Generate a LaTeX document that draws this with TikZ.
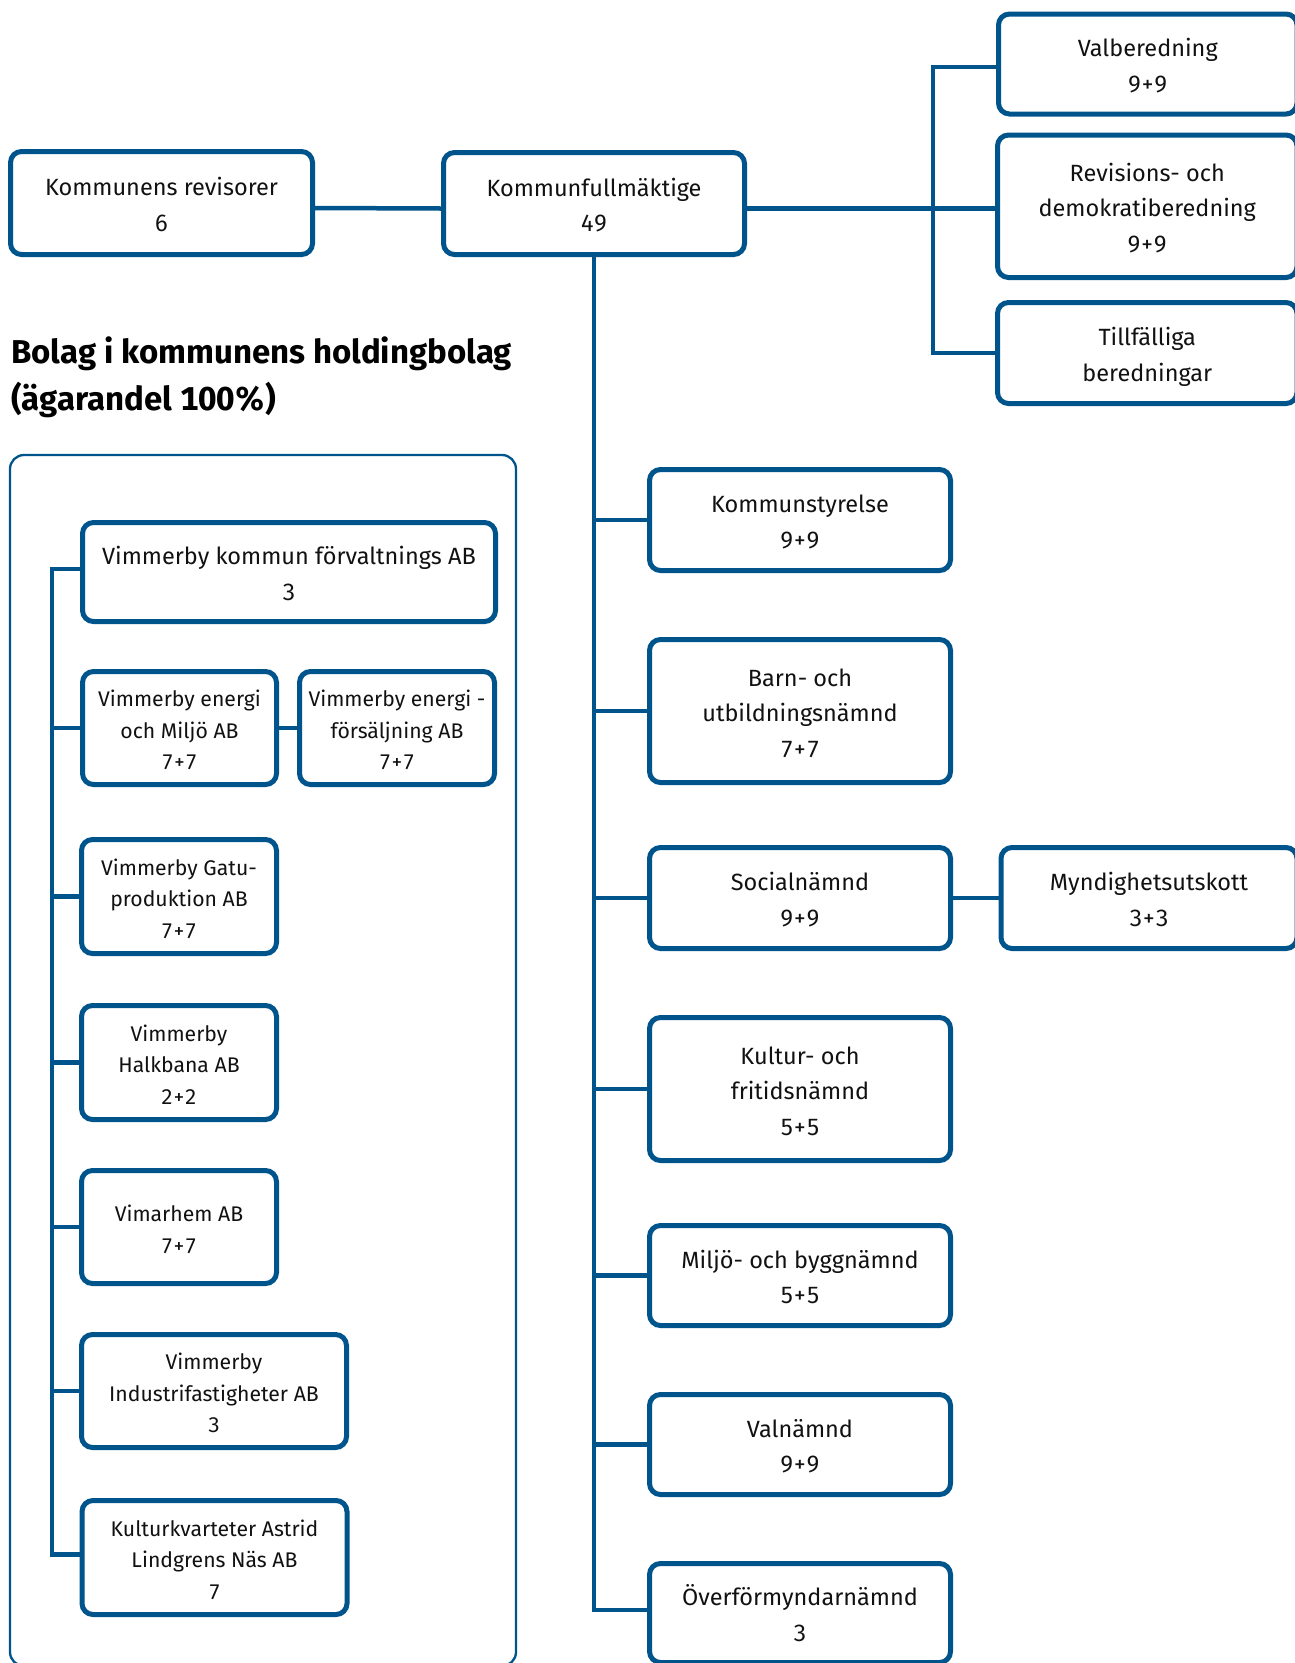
\documentclass[tikz,border=0pt]{standalone}
\usepackage{fontspec}
\setmainfont{Fira Sans}[Numbers={Lining,Monospaced}]
\definecolor{vblue}{RGB}{0,84,140}
\definecolor{ink}{RGB}{17,17,17}
\begin{document}
\begin{tikzpicture}[x=1pt,y=-1pt,
  box/.style={draw=vblue, line width=5pt, fill=white, rounded corners=11pt,
    align=center, text=ink, font=\fontsize{23.5}{35.5}\selectfont,
    text depth=0pt, inner sep=0pt},
  b2/.style={box, text height=56.5pt},
  b3/.style={box, text height=92pt},
  sbox/.style={box, font=\fontsize{21.2}{31.5}\selectfont},
  s2/.style={sbox, text height=52pt},
  s3/.style={sbox, text height=83.5pt},
  conn/.style={draw=vblue, line width=4.5pt},
  panel/.style={draw=vblue, line width=2.3pt, rounded corners=14pt, inner sep=0pt},
  headtxt/.style={anchor=base west, inner sep=0pt, text=black, font=\bfseries\fontsize{33}{47}\selectfont}
]
\useasboundingbox (0,0) rectangle (1294,1663);
\fill[white] (0,0) rectangle (1294,1663);

% left panel
\node[panel, minimum width=506pt, minimum height=1211pt] (panel) at (263,1060.5) {};
\node[headtxt] (head1) at (11,363) {Bolag i kommunens holdingbolag};
\node[headtxt] (head2) at (11,410) {(ägarandel 100\%)};

% top row
\node[b2, minimum width=302pt, minimum height=103pt] (rev) at (161.5,203) {Kommunens revisorer\\6};
\node[b2, minimum width=301pt, minimum height=102pt] (kf) at (594,203.5) {Kommunfullmäktige\\49};

% right column (beredningar)
\node[b2, minimum width=298.5pt, minimum height=100pt] (valb) at (1147.75,64) {Valberedning\\9+9};
\node[b3, minimum width=299.5pt, minimum height=142.5pt] (revd) at (1147.25,206.25) {Revisions- och\\demokratiberedning\\9+9};
\node[b2, minimum width=299.5pt, minimum height=101pt] (till) at (1147.25,353) {Tillfälliga\\beredningar};

% nämnder
\node[b2, minimum width=301pt, minimum height=101pt] (ks) at (800,520) {Kommunstyrelse\\9+9};
\node[b3, minimum width=301pt, minimum height=143pt] (barn) at (800,711) {Barn- och\\utbildningsnämnd\\7+7};
\node[b2, minimum width=301pt, minimum height=101pt] (soc) at (800,898) {Socialnämnd\\9+9};
\node[b2, minimum width=296pt, minimum height=101pt] (mynd) at (1149,898) {Myndighetsutskott\\3+3};
\node[b3, minimum width=301pt, minimum height=143pt] (kult) at (800,1089) {Kultur- och\\fritidsnämnd\\5+5};
\node[b2, minimum width=301pt, minimum height=100pt] (miljo) at (800,1275.5) {Miljö- och byggnämnd\\5+5};
\node[b2, minimum width=301pt, minimum height=100pt] (valn) at (800,1444.5) {Valnämnd\\9+9};
\node[b2, minimum width=301pt, minimum height=99pt] (over) at (800,1613) {Överförmyndarnämnd\\3};

% bolag
\node[b2, minimum width=413pt, minimum height=99pt] (forv) at (289,572) {Vimmerby kommun förvaltnings AB\\3};
\node[s3, minimum width=194pt, minimum height=113pt] (em) at (179.5,728) {Vimmerby energi\\och Miljö AB\\7+7};
\node[s3, minimum width=195pt, minimum height=113pt] (ef) at (397,728) {Vimmerby energi -\\försäljning AB\\7+7};
\node[s3, minimum width=195pt, minimum height=114pt] (gatu) at (179,896.5) {Vimmerby Gatu-\\produktion AB\\7+7};
\node[s3, minimum width=195pt, minimum height=114pt] (halk) at (179,1062.5) {Vimmerby\\Halkbana AB\\2+2};
\node[s2, minimum width=195pt, minimum height=113pt] (vim) at (179,1227) {Vimarhem AB\\7+7};
\node[s3, minimum width=265pt, minimum height=113pt] (ind) at (214,1391) {Vimmerby\\Industrifastigheter AB\\3};
\node[s3, minimum width=265pt, minimum height=114pt] (kkv) at (214.5,1557.5) {Kulturkvarteter Astrid\\Lindgrens Näs AB\\7};

% connectors top
\draw[conn] ([yshift=-5pt]rev.east) -- ([yshift=-5pt]kf.west);
\draw[conn] ([yshift=-5pt]kf.east) -- ([yshift=-5pt]kf.east -| revd.west);
\coordinate (bx) at (933,0);
\draw[conn] ([yshift=-3pt]valb.west) -| (bx |- till.west) -- (till.west);

% trunk
\draw[conn] (kf.south) -- ([yshift=3pt]kf.south |- over.west) -- ([yshift=3pt]over.west);
\foreach \n in {ks,barn,soc,kult,miljo,valn}
  \draw[conn] (kf.south |- \n.west) -- (\n.west);
\draw[conn] (soc.east) -- (mynd.west);

% left tree
\coordinate (lx) at (52,0);
\draw[conn] ([yshift=3pt]forv.west) -| ([yshift=3pt]lx |- kkv.west) -- ([yshift=3pt]kkv.west);
\foreach \n in {em,gatu,halk,vim,ind}
  \draw[conn] (lx |- \n.west) -- (\n.west);
\draw[conn] (em.east) -- (ef.west);
\end{tikzpicture}
\end{document}
